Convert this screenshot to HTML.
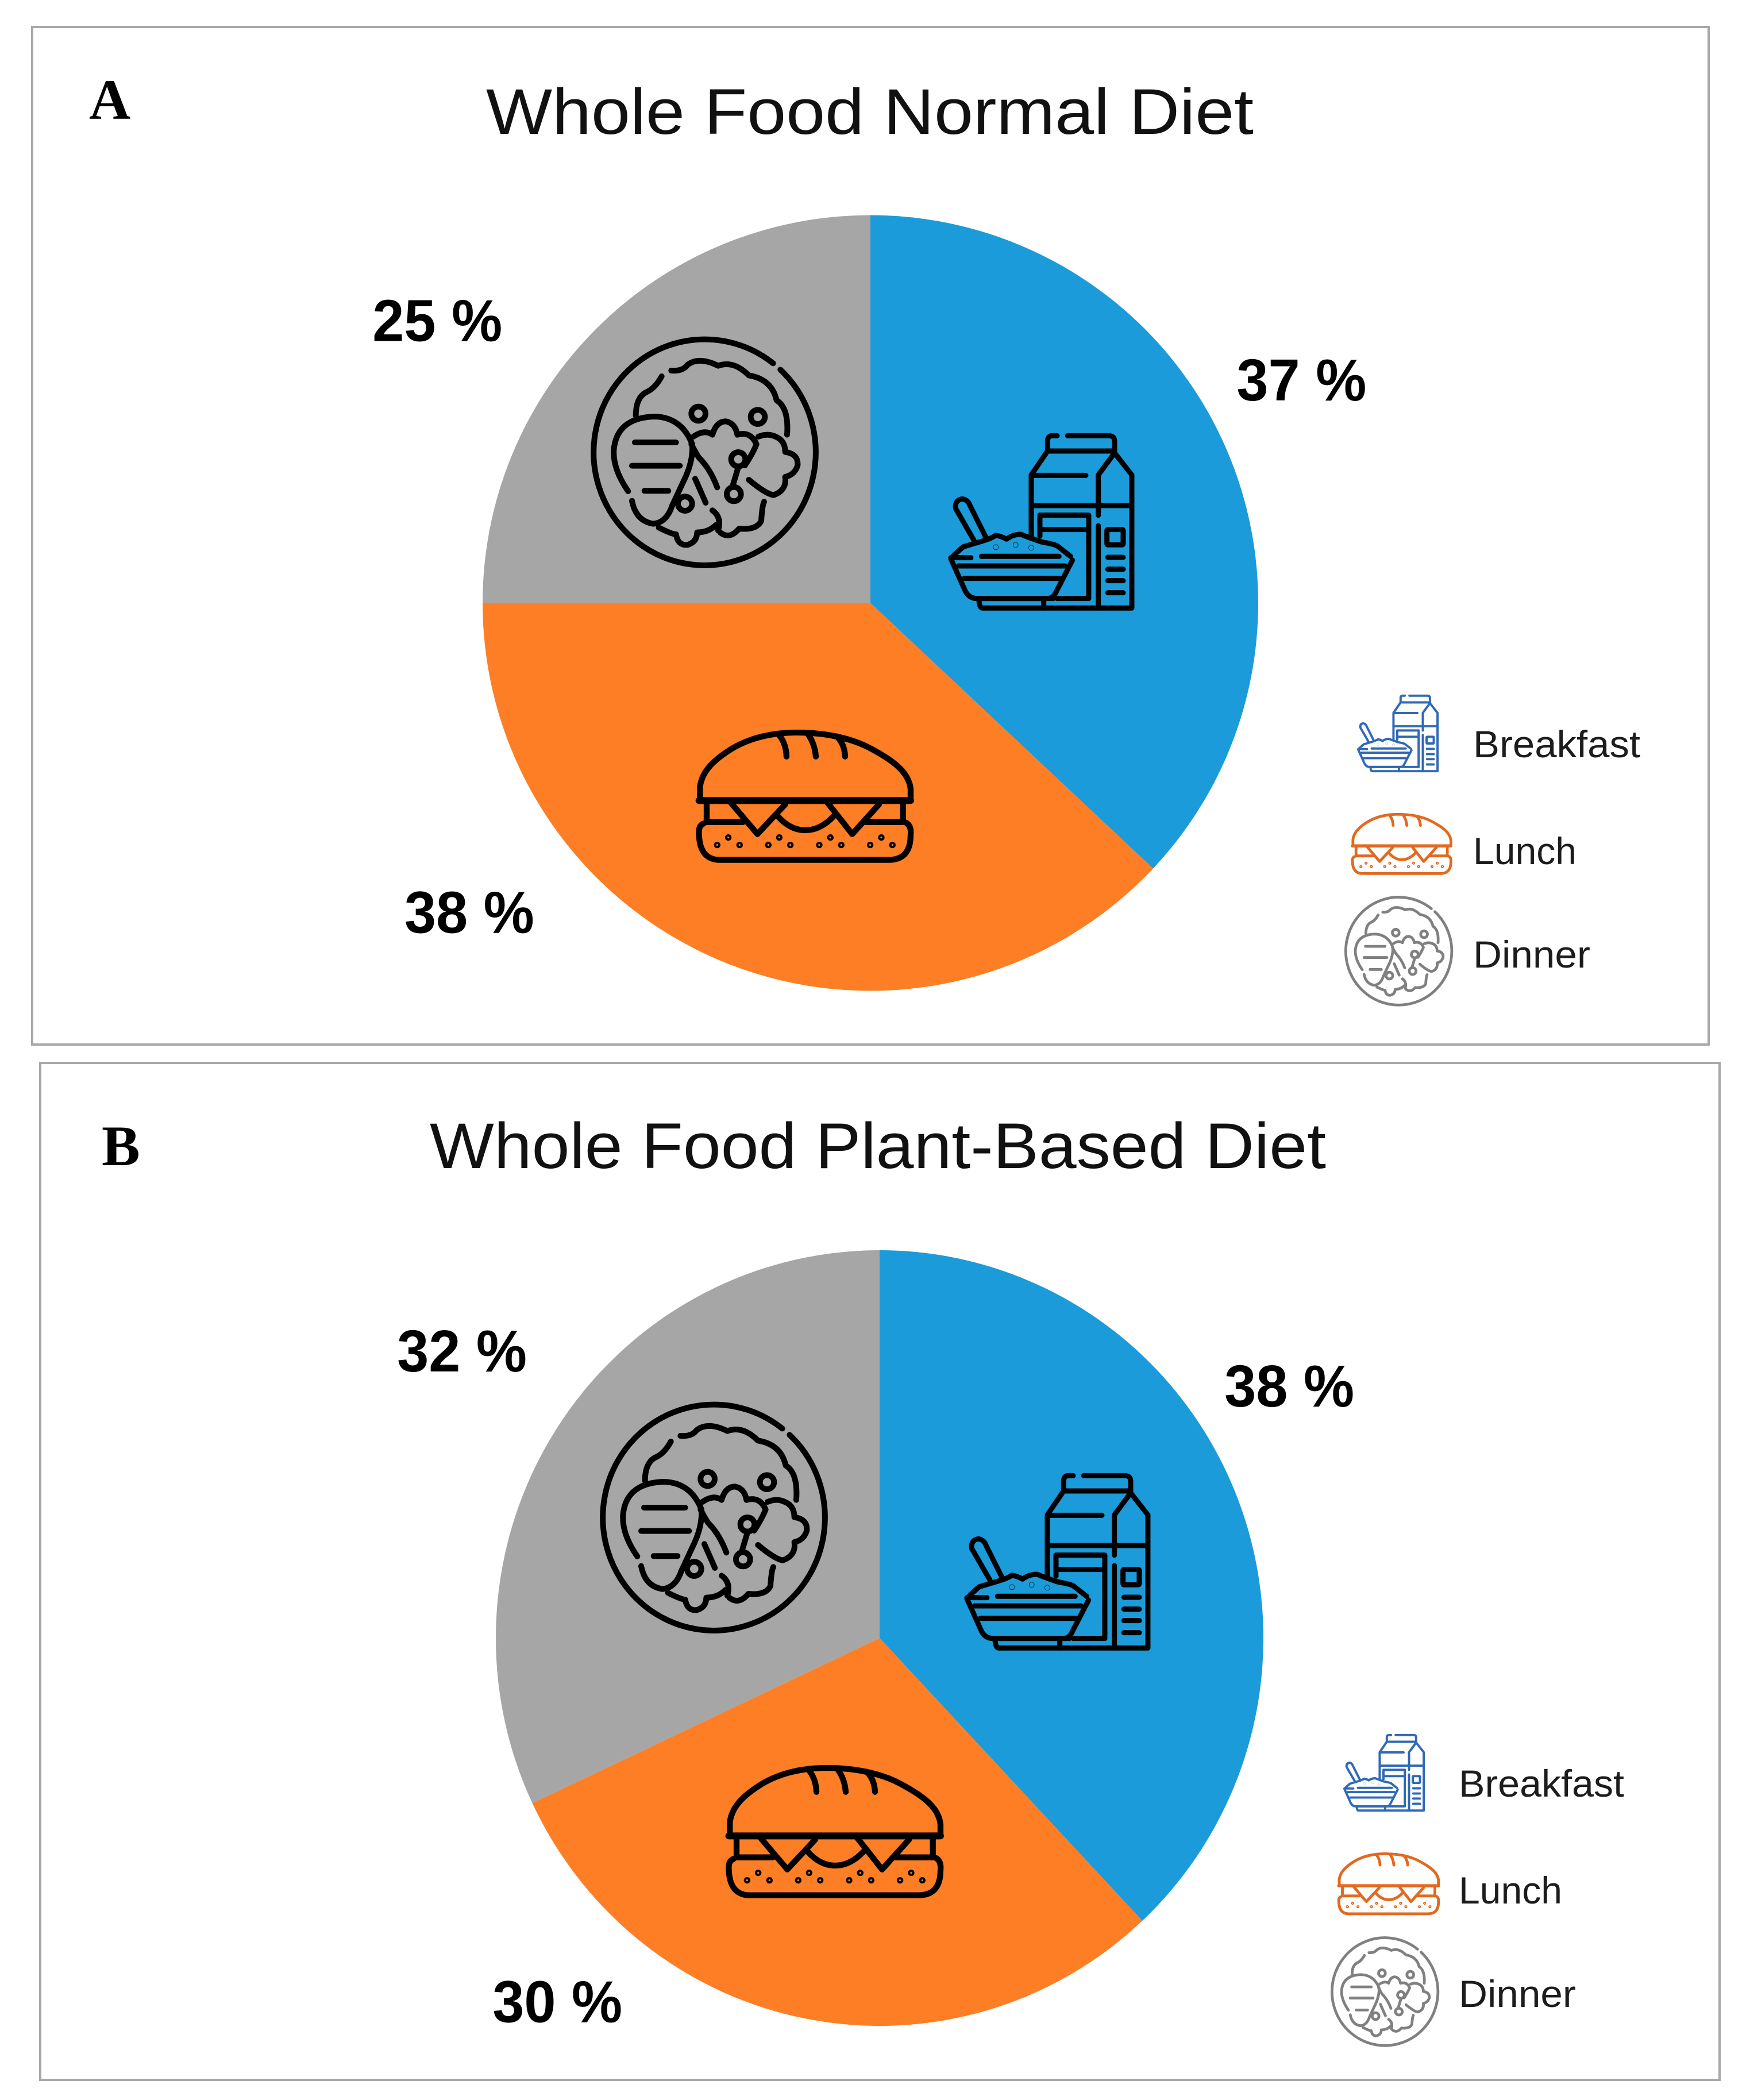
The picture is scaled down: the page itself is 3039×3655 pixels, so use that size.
<!DOCTYPE html>
<html lang="en">
<head>
<meta charset="utf-8">
<title>Whole Food Diet Meal Distribution</title>
<style>
html,body{margin:0;padding:0;background:#fff}
svg{display:block}
.title{font-family:"Liberation Sans",sans-serif;font-size:112px;fill:#111}
.panel-letter{font-family:"Liberation Serif",serif;font-weight:bold;font-size:100px;fill:#000}
.legend-text{font-family:"Liberation Sans",sans-serif;font-size:66px;fill:#1c1c1c}
.pct{font-family:"Liberation Sans",sans-serif;font-weight:bold;font-size:103px;fill:#000;text-anchor:middle}
.ic{fill:none;stroke:currentColor;stroke-linecap:round;stroke-linejoin:round}
</style>
</head>
<body>
<svg xmlns="http://www.w3.org/2000/svg" width="3039" height="3655" viewBox="0 0 3039 3655">
<defs>
<symbol id="icon-breakfast" viewBox="0 0 1260 1080" width="1260" height="1080" overflow="visible">
<g class="ic" stroke-width="27">
<path d="M720 115H695Q670 115 670 145V195M775 115H990Q1020 115 1020 145V195"/>
<path d="M670 195H1020M670 195L585 320V640M1020 205L1110 320V1015H330Q315 1015 312 975"/>
<path d="M1020 205L935 320V530M935 585V1015M600 322H870M585 480H1110"/>
<path d="M630 640V530H885V965H720M640 605H885"/>
<rect x="980" y="605" width="85" height="80" rx="6"/>
<path d="M985 750H1065M985 812H1065M985 872H1065M985 935H1065"/>
<path d="M285 660L190 495Q185 450 225 445Q255 450 265 480L345 640"/>
<path d="M175 745Q200 720 230 695Q280 680 330 665Q380 650 400 635Q430 640 455 655Q490 630 530 630Q580 650 640 670Q700 680 720 690L790 745"/>
<path d="M165 758L240 925Q260 965 300 965H670Q700 965 715 930L800 765"/>
<path d="M325 745H730M165 752H270M205 795H760M235 860H740M305 965H700M650 975V1015"/>
<circle cx="400" cy="697" r="1"/><circle cx="503" cy="685" r="1"/><circle cx="585" cy="700" r="1"/>
</g>
</symbol>
<symbol id="icon-lunch" viewBox="0 0 1320 900" width="1320" height="900" overflow="visible">
<g class="ic" stroke-width="31">
<path d="M115 450V390C125 300 200 240 280 190C380 130 500 105 620 105C760 105 900 130 1010 190C1100 240 1205 300 1215 400V450"/>
<path d="M110 460H1215" stroke-width="36"/>
<path d="M530 120Q565 165 567 230M680 115Q715 165 720 230M830 125Q870 165 873 230"/>
<path d="M150 470V570M1175 470V570M150 572H340M980 572H1175"/>
<path d="M275 470L415 635L560 480M780 470L910 635L1050 480"/>
<path d="M520 540Q585 615 665 615Q745 615 815 540"/>
<path d="M135 580Q105 590 110 640Q115 770 220 770H1100Q1215 770 1215 640Q1220 590 1190 575"/>
<g stroke-width="22">
<circle cx="205" cy="692" r="6"/><circle cx="263" cy="653" r="6"/><circle cx="322" cy="692" r="6"/>
<circle cx="472" cy="692" r="6"/><circle cx="529" cy="653" r="6"/><circle cx="587" cy="692" r="6"/>
<circle cx="738" cy="692" r="6"/><circle cx="796" cy="653" r="6"/><circle cx="853" cy="692" r="6"/>
<circle cx="1004" cy="692" r="6"/><circle cx="1062" cy="653" r="6"/><circle cx="1120" cy="692" r="6"/>
</g>
</g>
</symbol>
<symbol id="icon-dinner" viewBox="0 0 1350 1350" width="1350" height="1350" overflow="visible">
<g class="ic" stroke-width="30">
<path d="M1075 250A580 590 0 1 1 1037 217"/>
<path d="M320 490Q320 400 370 370Q420 350 455 285M505 255Q565 260 590 225Q650 180 750 230Q830 200 910 280Q1030 300 1055 410Q1120 450 1110 590"/>
<path d="M280 885Q200 770 205 670Q220 500 420 495Q560 500 615 640Q620 720 580 810L510 960Q480 1050 410 1055Q320 1040 300 935"/>
<path d="M315 630H530M300 752H550M365 883H490"/>
<circle cx="647" cy="480" r="37"/><circle cx="957" cy="497" r="37"/><circle cx="855" cy="718" r="37"/><circle cx="832" cy="900" r="37"/><circle cx="577" cy="950" r="37"/>
<path d="M620 600Q680 560 720 590Q740 520 790 520Q840 530 850 590Q920 570 950 640Q930 690 890 750M610 640Q630 680 650 710Q710 770 745 865M825 860L855 760"/>
<path d="M960 600Q1010 580 1050 600Q1100 620 1100 680Q1170 690 1165 750Q1150 800 1100 810Q1110 880 1040 905Q1000 900 910 825"/>
<path d="M630 820L685 945M720 985Q770 1020 750 1090"/>
<path d="M440 1075Q510 1110 530 1110Q540 1170 590 1165Q640 1150 640 1100Q700 1100 740 1060M760 1100Q810 1140 860 1080Q950 1090 975 1040Q980 960 990 940"/>
</g>
</symbol>
</defs>

<rect width="3039" height="3655" fill="#fff"/>

<g>
<rect x="56" y="47" width="2918" height="1771" fill="#fff" stroke="#a8a8a8" stroke-width="4"/>
<text class="panel-letter" x="155" y="207">A</text>
<text class="title" x="846" y="233" textLength="1336" lengthAdjust="spacingAndGlyphs">Whole Food Normal Diet</text>
<g id="pie-a"></g>
<use href="#icon-breakfast" transform="translate(1600 720) scale(.3333)" color="#000"/>
<use href="#icon-lunch" transform="translate(1180 1240) scale(.3333)" color="#000"/>
<use href="#icon-dinner" transform="translate(1000 560) scale(.3333)" color="#000"/>
<g id="labels-a"></g>
<g>
<g>
<use href="#icon-breakfast" transform="translate(2340 1194) scale(.146)" color="#2f69b8"/>
<text class="legend-text" x="2564" y="1318" textLength="291" lengthAdjust="spacingAndGlyphs">Breakfast</text>
</g>
<g>
<use href="#icon-lunch" transform="translate(2337 1401) scale(.155)" color="#e2691f"/>
<text class="legend-text" x="2564" y="1504" textLength="180" lengthAdjust="spacingAndGlyphs">Lunch</text>
</g>
<g>
<use href="#icon-dinner" transform="translate(2326.5 1547) scale(.159)" color="#808080"/>
<text class="legend-text" x="2564" y="1684" textLength="204" lengthAdjust="spacingAndGlyphs">Dinner</text>
</g>
</g>
</g>

<g>
<rect x="70" y="1850" width="2923" height="1770" fill="#fff" stroke="#a8a8a8" stroke-width="4"/>
<text class="panel-letter" x="177" y="2028">B</text>
<text class="title" x="748" y="2033" textLength="1560" lengthAdjust="spacingAndGlyphs">Whole Food Plant-Based Diet</text>
<g id="pie-b"></g>
<use href="#icon-breakfast" transform="translate(1628 2530) scale(.3333)" color="#000"/>
<use href="#icon-lunch" transform="translate(1232 3042) scale(.3333)" color="#000"/>
<use href="#icon-dinner" transform="translate(1016 2414) scale(.3333)" color="#000"/>
<g id="labels-b"></g>
<g>
<g>
<use href="#icon-breakfast" transform="translate(2316 3003) scale(.146)" color="#2f69b8"/>
<text class="legend-text" x="2539" y="3127" textLength="288" lengthAdjust="spacingAndGlyphs">Breakfast</text>
</g>
<g>
<use href="#icon-lunch" transform="translate(2313 3210) scale(.157)" color="#e2691f"/>
<text class="legend-text" x="2539" y="3313" textLength="180" lengthAdjust="spacingAndGlyphs">Lunch</text>
</g>
<g>
<use href="#icon-dinner" transform="translate(2302.5 3358) scale(.159)" color="#808080"/>
<text class="legend-text" x="2539" y="3493" textLength="204" lengthAdjust="spacingAndGlyphs">Dinner</text>
</g>
</g>
</g>

<script>
var categories = ['Breakfast', 'Lunch', 'Dinner'];
var normalDietValues = [37, 38, 25];
var plantDietValues = [38, 30, 32];

var SVG_NS = 'http://www.w3.org/2000/svg';
var sliceFills = ['#1b9bd9', '#fe7e26', '#a6a6a6'];

function angleScale(values) {
  var total = values.reduce(function (a, b) { return a + b; }, 0);
  return function (v) { return v / total * Math.PI * 2; };
}

function polar(geom, rx, ry, angle) {
  return { x: geom.cx + rx * Math.sin(angle), y: geom.cy - ry * Math.cos(angle) };
}

function drawPie(pieGroup, labelGroup, values, geom, panelKey) {
  var toAngle = angleScale(values);
  var start = 0;
  values.forEach(function (value, i) {
    var sweep = toAngle(value);
    var end = start + sweep;
    var p0 = polar(geom, geom.rx, geom.ry, start);
    var p1 = polar(geom, geom.rx, geom.ry, end);
    var large = sweep > Math.PI ? 1 : 0;
    var slice = document.createElementNS(SVG_NS, 'path');
    slice.setAttribute('d', 'M' + geom.cx + ' ' + geom.cy + 'L' + p0.x + ' ' + p0.y + 'A' + geom.rx + ' ' + geom.ry + ' 0 ' + large + ' 1 ' + p1.x + ' ' + p1.y + 'Z');
    slice.setAttribute('fill', sliceFills[i]);
    
    
    pieGroup.appendChild(slice);

    var mid = polar(geom, geom.labelRadius, geom.labelRadius, start + sweep / 2);
    var label = document.createElementNS(SVG_NS, 'text');
    label.setAttribute('class', 'pct');
    label.setAttribute('x', mid.x + geom.nudgeX[i]);
    label.setAttribute('y', mid.y + geom.nudgeY[i]);
    label.setAttribute('textLength', '226');
    label.setAttribute('lengthAdjust', 'spacingAndGlyphs');
    
    
    label.textContent = value + ' %';
    labelGroup.appendChild(label);
    start = end;
  });
}

drawPie(document.getElementById('pie-a'), document.getElementById('labels-a'), normalDietValues,
  { cx: 1515, cy: 1049.5, rx: 675, ry: 675, labelRadius: 810, nudgeX: [7, -400, -181], nudgeY: [-31, -179, 117] }, 'a');
drawPie(document.getElementById('pie-b'), document.getElementById('labels-b'), plantDietValues,
  { cx: 1531, cy: 2851, rx: 668, ry: 675, labelRadius: 810, nudgeX: [-40, -409, -43], nudgeY: [-105, -127, -30] }, 'b');
</script>
</svg>
</body>
</html>
